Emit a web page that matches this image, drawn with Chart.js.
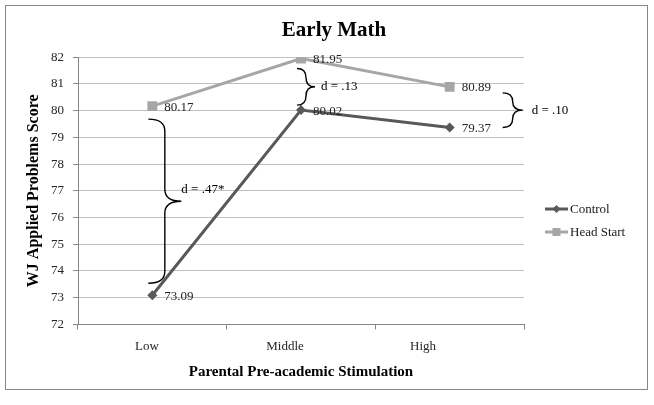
<!DOCTYPE html>
<html>
<head>
<meta charset="utf-8">
<script src="https://cdn.jsdelivr.net/npm/chart.js@4.4.0/dist/chart.umd.min.js"></script>
<style>
  html, body { margin: 0; padding: 0; background: #fff; }
</style>
</head>
<body>
<canvas id="myChart" width="654" height="405"></canvas>
<script>
const categories = ["Low", "Middle", "High"];
const control = [73.09, 80.02, 79.37];
const headStart = [80.17, 81.95, 80.89];
const effectSizes = ["d = .47*", "d = .13", "d = .10"];
const yMin = 72;
const yMax = 82;

const serif = '"Liberation Serif", "Times New Roman", serif';

// placement of each brace relative to its category (pixels)
const braceFit = [
  { dx: -4, w: 33, inTop: 13, inBot: 12, tx: 0, ty: -12 },
  { dx: -4, w: 18, inTop: 10, inBot: 5, tx: 6, ty: 0 },
  { dx: 53, w: 20, inTop: 6, inBot: 0, tx: 9, ty: 0 },
];

function drawMarker(ctx, style, x, y, r, color) {
  ctx.fillStyle = color;
  ctx.beginPath();
  if (style === "rectRot") {
    ctx.moveTo(x, y - r);
    ctx.lineTo(x + r, y);
    ctx.lineTo(x, y + r);
    ctx.lineTo(x - r, y);
  } else {
    ctx.rect(x - r, y - r, r * 2, r * 2);
  }
  ctx.closePath();
  ctx.fill();
}

function drawBrace(ctx, x0, x1, yTop, yBot) {
  const xm = (x0 + x1) / 2;
  const ym = (yTop + yBot) / 2;
  const r = Math.min(12, (yBot - yTop) / 4);
  ctx.beginPath();
  ctx.moveTo(x0, yTop);
  ctx.quadraticCurveTo(xm, yTop, xm, yTop + r);
  ctx.lineTo(xm, ym - r);
  ctx.quadraticCurveTo(xm, ym, x1, ym);
  ctx.quadraticCurveTo(xm, ym, xm, ym + r);
  ctx.lineTo(xm, yBot - r);
  ctx.quadraticCurveTo(xm, yBot, x0, yBot);
  ctx.stroke();
}

const frame = {
  id: "frame",
  beforeDraw(chart) {
    const ctx = chart.ctx;
    ctx.save();
    ctx.fillStyle = "#fff";
    ctx.fillRect(0, 0, chart.width, chart.height);
    ctx.restore();
  },
  afterDraw(chart) {
    const ctx = chart.ctx;
    ctx.save();
    ctx.strokeStyle = "#868686";
    ctx.lineWidth = 1;
    ctx.strokeRect(5.5, 5.5, 642, 384);

    // legend: line with marker, then label
    chart.data.datasets.forEach((ds, i) => {
      const ly = 209 + i * 23;
      ctx.strokeStyle = ds.borderColor;
      ctx.lineWidth = 3;
      ctx.beginPath();
      ctx.moveTo(545, ly);
      ctx.lineTo(568, ly);
      ctx.stroke();
      drawMarker(ctx, ds.pointStyle, 556.5, ly, 4, ds.borderColor);
      ctx.fillStyle = "#1a1a1a";
      ctx.font = "13px " + serif;
      ctx.textBaseline = "middle";
      ctx.fillText(ds.label, 570, ly + 1);
    });
    ctx.restore();
  },
};

const annotate = {
  id: "annotate",
  afterDatasetsDraw(chart) {
    const ctx = chart.ctx;
    const xs = chart.scales.x;
    const ys = chart.scales.y;
    ctx.save();
    ctx.font = "13px " + serif;
    ctx.fillStyle = "#262626";
    ctx.textBaseline = "middle";
    chart.data.datasets.forEach((ds, di) => {
      chart.getDatasetMeta(di).data.forEach((pt, i) => {
        ctx.fillText(ds.data[i].toFixed(2), pt.x + 12, pt.y + 1);
      });
    });

    // effect size braces between the two groups
    ctx.strokeStyle = "#000";
    ctx.lineWidth = 1.4;
    ctx.fillStyle = "#000";
    categories.forEach((c, i) => {
      const f = braceFit[i];
      const cx = xs.getPixelForValue(i);
      const top = ys.getPixelForValue(Math.max(control[i], headStart[i])) + f.inTop;
      const bot = ys.getPixelForValue(Math.min(control[i], headStart[i])) - f.inBot;
      const x0 = cx + f.dx;
      const x1 = x0 + f.w;
      drawBrace(ctx, x0, x1, top, bot);
      ctx.fillText(effectSizes[i], x1 + f.tx, (top + bot) / 2 + f.ty);
    });
    ctx.restore();
  },
};

const myChart = document.getElementById("myChart").getContext("2d");

const earlyMathChart = new Chart(myChart, {
  type: "line",
  data: {
    labels: categories,
    datasets: [
      {
        label: "Control",
        data: control,
        xAxisID: "x",
        yAxisID: "y",
        borderColor: "#595959",
        backgroundColor: "#595959",
        borderWidth: 3,
        pointStyle: "rectRot",
        pointRadius: 5,
        pointBorderWidth: 0,
        tension: 0,
      },
      {
        label: "Head Start",
        data: headStart,
        xAxisID: "x",
        yAxisID: "y",
        borderColor: "#a6a6a6",
        backgroundColor: "#a6a6a6",
        borderWidth: 3,
        pointStyle: "rect",
        pointRadius: 7,
        pointBorderWidth: 0,
        tension: 0,
      },
    ],
  },
  options: {
    responsive: false,
    animation: false,
    layout: { padding: { left: 14, right: 0, top: 8, bottom: 24 } },
    plugins: {
      legend: { display: false },
      tooltip: { enabled: false },
      title: {
        display: true,
        text: "Early Math",
        color: "#000",
        font: { family: serif, size: 21, weight: "bold" },
        padding: { top: 10, bottom: 14 },
      },
    },
    scales: {
      x: {
        type: "category",
        weight: 0,
        offset: true,
        grid: {
          offset: true,
          drawOnChartArea: false,
          drawTicks: true,
          tickLength: 5,
          tickColor: "#868686",
        },
        border: { color: "#868686" },
        ticks: { display: false },
      },
      x2: {
        type: "linear",
        position: "bottom",
        weight: 1,
        min: -0.5,
        max: 2.732,
        grid: { display: false, drawTicks: false },
        border: { display: false },
        afterBuildTicks: (s) => {
          s.ticks = categories.map((c, i) => ({ value: i }));
        },
        ticks: {
          padding: 9,
          maxRotation: 0,
          color: "#262626",
          font: { family: serif, size: 13 },
          callback: (v) => categories[v],
        },
        title: {
          display: true,
          text: "Parental Pre-academic Stimulation",
          color: "#000",
          font: { family: serif, size: 15, weight: "bold" },
          padding: { top: 0, bottom: 0 },
        },
      },
      y: {
        min: yMin,
        max: yMax,
        afterFit: (s) => {
          s.width = 64;
        },
        grid: { color: "#bfbfbf", tickColor: "#868686", tickLength: 5 },
        border: { color: "#868686" },
        ticks: {
          stepSize: 1,
          padding: 9,
          color: "#262626",
          font: { family: serif, size: 13 },
        },
        title: {
          display: true,
          text: "WJ Applied Problems Score",
          color: "#000",
          font: { family: serif, size: 16, weight: "bold" },
          padding: { top: 10, bottom: 0 },
        },
      },
      // empty right-hand strip that holds the legend
      legendSpace: {
        type: "linear",
        position: "right",
        min: 0,
        max: 1,
        afterFit: (s) => {
          s.width = 130;
        },
        grid: { display: false, drawTicks: false },
        border: { display: false },
        ticks: { display: false },
      },
    },
  },
  plugins: [frame, annotate],
});
</script>
</body>
</html>
